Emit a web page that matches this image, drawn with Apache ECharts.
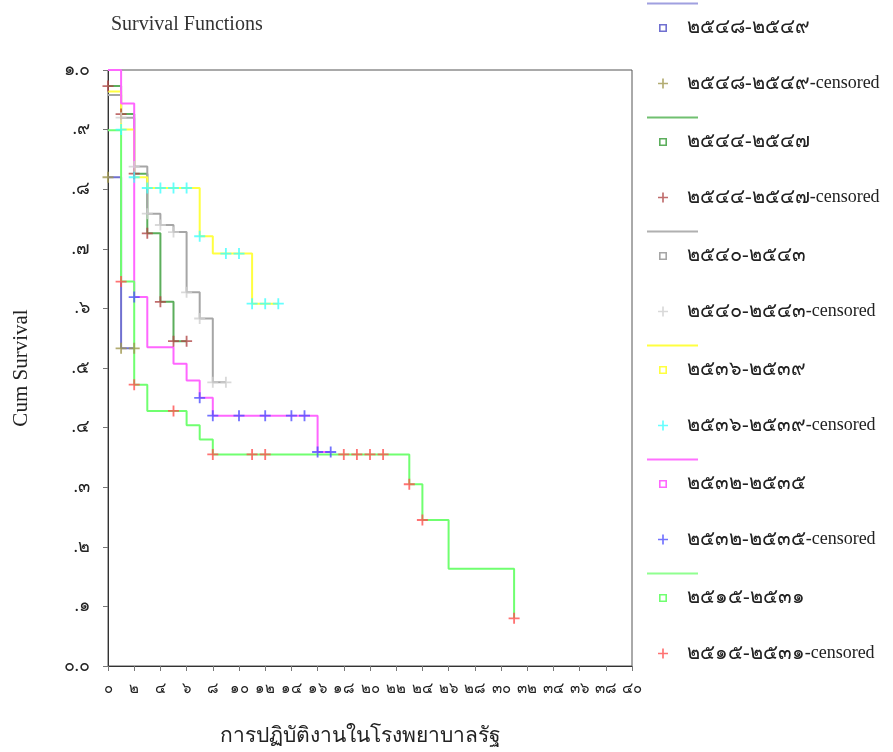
<!DOCTYPE html>
<html><head><meta charset="utf-8">
<script src="https://cdn.jsdelivr.net/npm/echarts@6/dist/echarts.min.js"></script>
<style>html,body{margin:0;padding:0;background:#fff}#c{width:893px;height:752px}</style>
</head><body><div id="c"></div>
<script>
// ---- data ----
const xTickLabels = ['๐','๒','๔','๖','๘','๑๐','๑๒','๑๔','๑๖','๑๘','๒๐','๒๒','๒๔','๒๖','๒๘','๓๐','๓๒','๓๔','๓๖','๓๘','๔๐'];
const yTickLabels = ['๐.๐','.๑','.๒','.๓','.๔','.๕','.๖','.๗','.๘','.๙','๑.๐'];
const groupNames = ['๒๕๔๘-๒๕๔๙','๒๕๔๔-๒๕๔๗','๒๕๔๐-๒๕๔๓','๒๕๓๖-๒๕๓๙','๒๕๓๒-๒๕๓๕','๒๕๑๕-๒๕๓๑'];
const censoredSuffix = '-censored';

const g1Time = [0, 1, 2];
const g1Surv = [0.82, 0.533, 0.533];
const g1CensTime = [0, 1, 2];
const g1CensSurv = [0.82, 0.533, 0.533];

const g2Time = [0, 1, 2, 3, 4, 5, 6];
const g2Surv = [0.973, 0.926, 0.826, 0.726, 0.611, 0.545, 0.545];
const g2CensTime = [0, 1, 2, 3, 4, 5, 6];
const g2CensSurv = [0.973, 0.926, 0.826, 0.726, 0.611, 0.545, 0.545];

const g3Time = [0, 1, 2, 3, 4, 5, 6, 7, 8, 9];
const g3Surv = [0.958, 0.92, 0.838, 0.759, 0.74, 0.728, 0.627, 0.583, 0.476, 0.476];
const g3CensTime = [1, 2, 3, 4, 5, 6, 7, 8, 9];
const g3CensSurv = [0.92, 0.838, 0.759, 0.74, 0.728, 0.627, 0.583, 0.476, 0.476];

const g4Time = [0, 1, 2, 3, 7, 8, 11, 13];
const g4Surv = [0.964, 0.9, 0.82, 0.802, 0.721, 0.692, 0.608, 0.608];
const g4CensTime = [1, 2, 3, 4, 5, 6, 7, 9, 10, 11, 12, 13];
const g4CensSurv = [0.9, 0.82, 0.802, 0.802, 0.802, 0.802, 0.721, 0.692, 0.692, 0.608, 0.608, 0.608];

const g5Time = [0, 1, 2, 3, 5, 6, 7, 8, 16, 17];
const g5Surv = [1.0, 0.944, 0.619, 0.535, 0.507, 0.479, 0.45, 0.42, 0.359, 0.359];
const g5CensTime = [2, 7, 8, 10, 12, 14, 15, 16, 17];
const g5CensSurv = [0.619, 0.45, 0.42, 0.42, 0.42, 0.42, 0.42, 0.359, 0.359];

const g6Time = [0, 1, 2, 3, 6, 7, 8, 23, 24, 26, 31];
const g6Surv = [0.899, 0.645, 0.472, 0.428, 0.404, 0.38, 0.355, 0.305, 0.245, 0.163, 0.08];
const g6CensTime = [1, 2, 5, 8, 11, 12, 18, 19, 20, 21, 23, 24, 31];
const g6CensSurv = [0.645, 0.472, 0.428, 0.355, 0.355, 0.355, 0.355, 0.355, 0.355, 0.355, 0.305, 0.245, 0.08];

// ---- styles ----
const lineColors = ['#7070d0', '#5cae5c', '#a6a6a6', '#ffff40', '#ff66ff', '#70ff70'];
const censColors = ['#a09850', '#b04848', '#d0d0d0', '#40ffff', '#5050ff', '#ff5050'];
const legendLineColors = ['#a0a0e0', '#70c070', '#b0b0b0', '#ffff40', '#ff70ff', '#90ff90'];

const groups = [
  [g1Time, g1Surv, g1CensTime, g1CensSurv],
  [g2Time, g2Surv, g2CensTime, g2CensSurv],
  [g3Time, g3Surv, g3CensTime, g3CensSurv],
  [g4Time, g4Surv, g4CensTime, g4CensSurv],
  [g5Time, g5Surv, g5CensTime, g5CensSurv],
  [g6Time, g6Surv, g6CensTime, g6CensSurv]
];

const plusPath = 'path://M5,0H7V5H12V7H7V12H5V7H0V5H5Z';
const squarePath = 'path://M0,0H10V10H0Z M2,2V8H8V2Z';
const serif = "'Liberation Serif', 'DejaVu Serif', serif";

const legendText = {
  fontFamily: serif, color: '#222', lineHeight: 22, padding: [0, 0, 0, 15],
  rich: {
    th: { fontFamily: serif, fontSize: 20, lineHeight: 22, color: '#222' },
    en: { fontFamily: serif, fontSize: 18, lineHeight: 22, color: '#222' }
  }
};
const legendFormatter = name => name.endsWith(censoredSuffix)
  ? '{th|' + name.slice(0, -censoredSuffix.length) + '}{en|' + censoredSuffix + '}'
  : '{th|' + name + '}';

const series = [];
const legends = [];
const graphics = [];
groups.forEach((g, i) => {
  const [t, s, ct, cs] = g;
  series.push({
    name: groupNames[i], type: 'line', step: 'end',
    data: t.map((v, k) => [v, s[k]]),
    showSymbol: false, symbol: 'none',
    lineStyle: { width: 2, color: lineColors[i] },
    itemStyle: { color: lineColors[i] },
    z: 2 + i, silent: true
  });
  series.push({
    name: groupNames[i] + censoredSuffix, type: 'scatter',
    data: ct.map((v, k) => [v, cs[k]]),
    symbol: plusPath, symbolSize: 11,
    itemStyle: { color: censColors[i] },
    z: 10 + i, silent: true
  });
  const lineY = 3.5 + 114 * i;
  graphics.push({
    type: 'line', shape: { x1: 647, y1: lineY, x2: 698, y2: lineY },
    style: { stroke: legendLineColors[i], lineWidth: 2 }
  });
  legends.push({
    left: 659, top: lineY + 24.5 - 11, padding: 0, itemWidth: 8, itemHeight: 8,
    selectedMode: false, formatter: legendFormatter,
    textStyle: Object.assign({}, legendText, { padding: [0, 0, 0, 15] }),
    data: [{ name: groupNames[i], icon: squarePath }]
  });
  legends.push({
    left: 658, top: lineY + 80 - 11, padding: 0, itemWidth: 10, itemHeight: 10,
    selectedMode: false, formatter: legendFormatter,
    textStyle: Object.assign({}, legendText, { padding: [0, 0, 0, 14] }),
    data: [{ name: groupNames[i] + censoredSuffix, icon: plusPath }]
  });
});

const chart = echarts.init(document.getElementById('c'));
chart.setOption({
  animation: false,
  backgroundColor: '#fff',
  title: {
    text: 'Survival Functions', left: 106, top: 10,
    textStyle: { fontFamily: serif, fontSize: 20, fontWeight: 'normal', color: '#333' }
  },
  grid: { left: 108, right: 261, top: 70, bottom: 84, show: true, borderColor: '#555', borderWidth: 1, backgroundColor: 'transparent' },
  xAxis: {
    type: 'value', min: 0, max: 40, interval: 2,
    name: 'การปฏิบัติงานในโรงพยาบาลรัฐ', nameLocation: 'middle', nameGap: 60,
    nameTextStyle: { fontFamily: serif, fontSize: 21, color: '#222', padding: [0, 20, 0, 0] },
    axisLine: { show: true, lineStyle: { color: '#333', width: 1 } },
    axisTick: { show: true, length: 5, lineStyle: { color: '#777' } },
    splitLine: { show: false },
    axisLabel: {
      margin: 16, fontFamily: serif, fontSize: 15, color: '#222',
      formatter: v => xTickLabels[Math.round(v / 2)]
    }
  },
  yAxis: {
    type: 'value', min: 0, max: 1, interval: 0.1,
    name: 'Cum Survival', nameLocation: 'middle', nameGap: 76, nameRotate: 90,
    nameTextStyle: { fontFamily: serif, fontSize: 21, color: '#222' },
    axisLine: { show: true, lineStyle: { color: '#333', width: 1 } },
    axisTick: { show: true, length: 5, lineStyle: { color: '#777' } },
    splitLine: { show: false },
    axisLabel: {
      margin: 18, fontFamily: serif, fontSize: 18, color: '#222',
      formatter: v => yTickLabels[Math.round(v * 10)]
    }
  },
  legend: legends,
  graphic: graphics,
  series: series
});
</script>
</body></html>
